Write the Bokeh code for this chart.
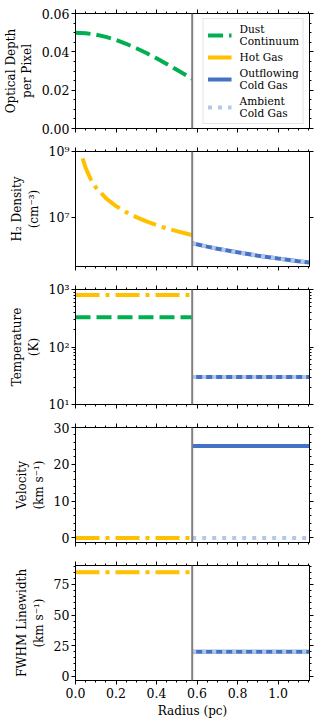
from bokeh.plotting import figure
from bokeh.layouts import column
from bokeh.models import (Range1d, LinearAxis, LogAxis, FixedTicker, SingleIntervalTicker,
                          PrintfTickFormatter, CustomJSTickFormatter, Span, Legend, LegendItem)
from bokeh.embed import file_html
from bokeh.resources import INLINE

# ---------------- data ----------------
R_CLOUD = 0.576
R_MAX = 1.155

r_dust = [0.0, 0.05, 0.1, 0.15, 0.2, 0.25, 0.3, 0.35, 0.4, 0.45, 0.5, 0.55, 0.576]
tau_dust = [0.0500, 0.0497, 0.0490, 0.0478, 0.0462, 0.0442, 0.0419, 0.0394, 0.0366,
            0.0337, 0.0306, 0.0275, 0.0259]

r_hot = [0.035, 0.05, 0.075, 0.1, 0.15, 0.2, 0.25, 0.3, 0.35, 0.4, 0.45, 0.5, 0.55, 0.576]
n_hot = [6.2e8, 3.2e8, 1.45e8, 8.3e7, 3.9e7, 2.25e7, 1.48e7, 1.05e7, 7.8e6, 6.0e6,
         4.8e6, 3.95e6, 3.3e6, 3.0e6]

r_cold = [0.576, 0.65, 0.7, 0.8, 0.9, 1.0, 1.1, 1.155]
n_cold = [1.7e6, 1.35e6, 1.17e6, 9.1e5, 7.2e5, 5.9e5, 4.9e5, 4.5e5]

r_inner = [0.0, 0.576]
r_outer = [0.576, 1.155]
T_dust = [330, 330]
T_hot = [800, 800]
T_cold = [30, 30]
v_hot = [0, 0]
v_out = [25, 25]
v_amb = [0, 0]
fwhm_hot = [85, 85]
fwhm_out = [20, 20]
fwhm_amb = [20, 20]

x_ticks_major = 0.2
ylabels = ["Optical Depth\nper Pixel", "H\u2082 Density\n(cm\u207b\u00b3)", "Temperature\n(K)",
           "Velocity\n(km s\u207b\u00b9)", "FWHM Linewidth\n(km s\u207b\u00b9)"]
xlabel = "Radius (pc)"
legend_labels = ["Dust\nContinuum", "Hot Gas", "Outflowing\nCold Gas", "Ambient\nCold Gas"]

# ---------------- styles ----------------
GREEN = "#00b050"
YELLOW = "#ffc000"
BLUE = "#4472c4"
LBLUE = "#b4c7e7"
GRAY = "#808080"
FONT = "DejaVu Serif"
TICK_FS = "12.5px"
LABEL_FS = "12px"
LEG_FS = "10.6px"
LW = 4
DASH = "15 6"
DASHDOT = "24 6 4 6"
DOT = "4 6"

SUP_JS = """
const sup = {'0':'\u2070','1':'\u00b9','2':'\u00b2','3':'\u00b3','4':'\u2074','5':'\u2075',
             '6':'\u2076','7':'\u2077','8':'\u2078','9':'\u2079','-':'\u207b'};
const e = Math.round(Math.log10(tick));
return '10' + String(e).split('').map(c => sup[c]).join('');
"""
EMPTY_JS = "return '';"

LEFT = 74
WIDTH = 314


def style_axis(ax, show_labels):
    ax.axis_line_color = "black"
    ax.major_tick_line_color = "black"
    ax.minor_tick_line_color = "black"
    ax.major_tick_out = 4
    ax.major_tick_in = 0
    ax.minor_tick_out = 2
    ax.minor_tick_in = 0
    ax.major_label_text_font = FONT
    ax.major_label_text_font_size = TICK_FS
    ax.major_label_text_color = "black"
    ax.axis_label_text_font = FONT
    ax.axis_label_text_font_size = LABEL_FS
    ax.axis_label_text_font_style = "normal"
    ax.axis_label_text_color = "black"
    ax.axis_label_text_line_height = 1.15
    if not show_labels:
        ax.formatter = CustomJSTickFormatter(code=EMPTY_JS)
        ax.major_label_text_font_size = "1px"
        ax.major_label_standoff = 0


def make_fig(height, top, bottom, y_range, y_log, yticker, yfmt, ylabel, show_x):
    p = figure(width=WIDTH, height=height, x_range=Range1d(0, R_MAX), y_range=y_range,
               y_axis_type="log" if y_log else "linear",
               output_backend="svg", toolbar_location=None,
               min_border_left=LEFT, min_border_right=5, min_border_top=top,
               min_border_bottom=bottom)
    p.xgrid.visible = False
    p.ygrid.visible = False
    p.outline_line_color = "black"
    p.outline_line_width = 1
    p.background_fill_color = "white"
    xt = SingleIntervalTicker(interval=x_ticks_major, num_minor_ticks=4)
    # bottom x axis
    xa = p.xaxis[0]
    xa.ticker = xt
    xa.formatter = PrintfTickFormatter(format="%.1f")
    style_axis(xa, show_x)
    if show_x:
        xa.axis_label = xlabel
        xa.major_label_standoff = 3
        xa.axis_label_standoff = 3
    # left y axis
    ya = p.yaxis[0]
    ya.ticker = yticker
    ya.formatter = yfmt
    ya.axis_label = ylabel
    style_axis(ya, True)
    ya.major_label_standoff = 2
    ya.axis_label_standoff = 5
    # top and right axes (ticks only)
    top_ax = LinearAxis(ticker=xt)
    style_axis(top_ax, False)
    p.add_layout(top_ax, "above")
    ra = (LogAxis if y_log else LinearAxis)(ticker=yticker)
    style_axis(ra, False)
    p.add_layout(ra, "right")
    p.add_layout(Span(location=R_CLOUD, dimension="height", line_color=GRAY, line_width=2))
    return p


# Panel 1: optical depth
p1 = make_fig(140, 13, 12, Range1d(0, 0.06), False,
              SingleIntervalTicker(interval=0.02, num_minor_ticks=4),
              PrintfTickFormatter(format="%.2f"), ylabels[0], False)
l_dust = p1.line(r_dust, tau_dust, line_color=GREEN, line_width=LW, line_dash=DASH)
# legend-only entries: these series lie far outside this panel's y range
l_hot = p1.line(r_inner, T_hot, line_color=YELLOW, line_width=LW, line_dash=DASHDOT)
l_out = p1.line(r_outer, T_cold, line_color=BLUE, line_width=LW)
l_amb = p1.line(r_outer, T_cold, line_color=LBLUE, line_width=LW, line_dash=DOT)
leg = Legend(items=[LegendItem(label=legend_labels[0], renderers=[l_dust]),
                    LegendItem(label=legend_labels[1], renderers=[l_hot]),
                    LegendItem(label=legend_labels[2], renderers=[l_out]),
                    LegendItem(label=legend_labels[3], renderers=[l_amb])],
             location="top_right")
leg.label_text_font = FONT
leg.label_text_font_size = LEG_FS
leg.label_text_color = "black"
leg.label_text_line_height = 1.2
leg.glyph_width = 24
leg.glyph_height = 12
leg.label_standoff = 8
leg.padding = 4
leg.spacing = 4
leg.margin = 5
leg.border_line_color = "#cccccc"
leg.border_line_width = 1
leg.background_fill_alpha = 0.8
leg.label_height = 12
p1.add_layout(leg)

# Panel 2: density
dens_ticker = FixedTicker(ticks=[1e7, 1e9], minor_ticks=[])
p2 = make_fig(138, 11, 12, Range1d(3.4e5, 1e9), True, dens_ticker,
              CustomJSTickFormatter(code=SUP_JS), ylabels[1], False)
p2.line(r_hot, n_hot, line_color=YELLOW, line_width=LW, line_dash=DASHDOT)
p2.line(r_cold, n_cold, line_color=BLUE, line_width=LW)
p2.line(r_cold, n_cold, line_color=LBLUE, line_width=LW, line_dash=DOT)

# Panel 3: temperature
minor_T = [m * 10 ** d for d in (1, 2) for m in range(2, 10)]
temp_ticker = FixedTicker(ticks=[10, 100, 1000], minor_ticks=minor_T)
p3 = make_fig(138, 11, 12, Range1d(10, 1000), True, temp_ticker,
              CustomJSTickFormatter(code=SUP_JS), ylabels[2], False)
p3.line(r_inner, T_hot, line_color=YELLOW, line_width=LW, line_dash=DASHDOT)
p3.line(r_inner, T_dust, line_color=GREEN, line_width=LW, line_dash=DASH)
p3.line(r_outer, T_cold, line_color=BLUE, line_width=LW)
p3.line(r_outer, T_cold, line_color=LBLUE, line_width=LW, line_dash=DOT)

# Panel 4: velocity
p4 = make_fig(138, 11, 12, Range1d(-1.25, 30), False,
              SingleIntervalTicker(interval=10, num_minor_ticks=5),
              PrintfTickFormatter(format="%d"), ylabels[3], False)
p4.line(r_inner, v_hot, line_color=YELLOW, line_width=LW, line_dash=DASHDOT)
p4.line(r_outer, v_out, line_color=BLUE, line_width=LW)
p4.line(r_outer, v_amb, line_color=LBLUE, line_width=LW, line_dash=DOT)

# Panel 5: FWHM
p5 = make_fig(166, 11, 40, Range1d(-3.5, 90.5), False,
              SingleIntervalTicker(interval=25, num_minor_ticks=5),
              PrintfTickFormatter(format="%d"), ylabels[4], True)
p5.line(r_inner, fwhm_hot, line_color=YELLOW, line_width=LW, line_dash=DASHDOT)
p5.line(r_outer, fwhm_out, line_color=BLUE, line_width=LW)
p5.line(r_outer, fwhm_amb, line_color=LBLUE, line_width=LW, line_dash=DOT)

layout = column(p1, p2, p3, p4, p5, spacing=0)
open("out.html", "w").write(file_html(layout, INLINE))
